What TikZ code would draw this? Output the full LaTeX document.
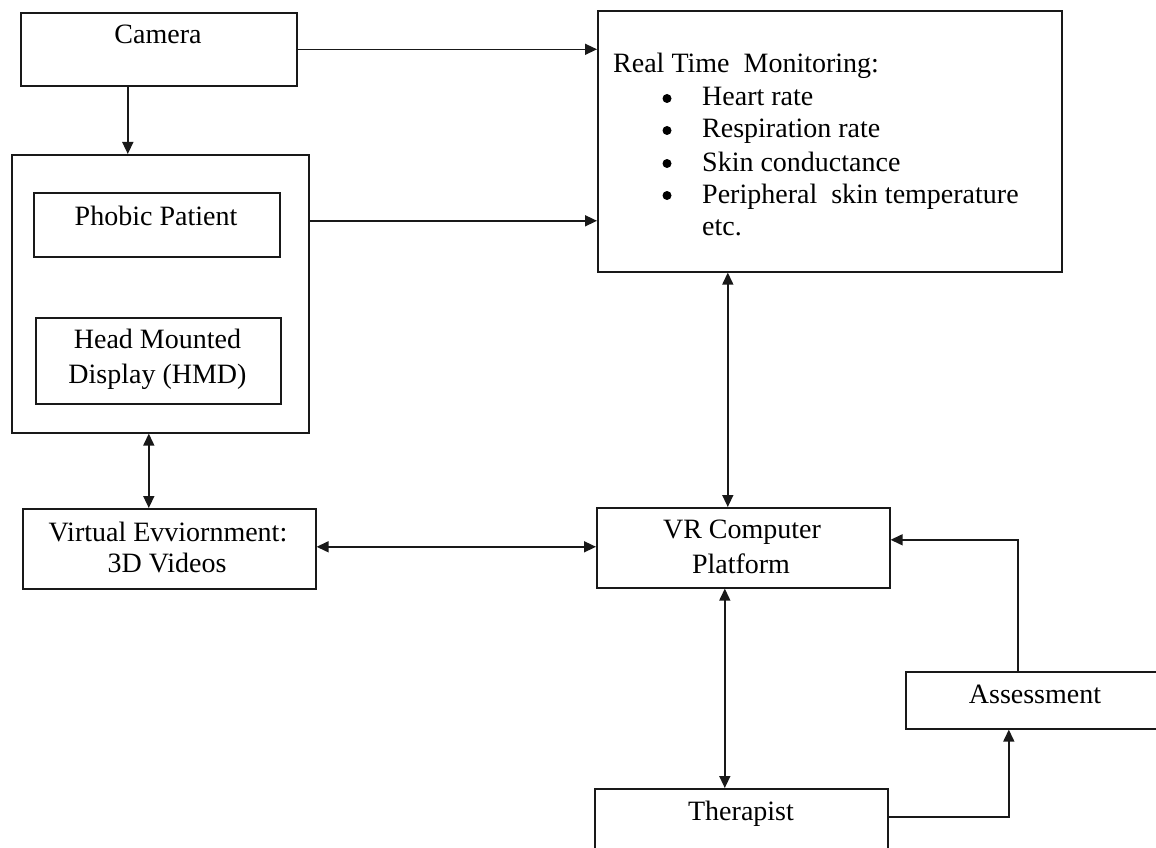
\documentclass[tikz,border=0pt]{standalone}
\usepackage{fontspec}
\setmainfont{Liberation Serif}
\usetikzlibrary{arrows.meta,calc}
\begin{document}
\begin{tikzpicture}[x=1pt,y=-1pt,
  box/.style={draw=black!90,line width=1.6pt,rectangle,inner sep=0pt,anchor=north west},
  lbl/.style={font=\fontsize{28}{32}\selectfont,inner sep=0pt,anchor=base},
  lbll/.style={font=\fontsize{28}{32}\selectfont,inner sep=0pt,anchor=base west},
  bulstyle/.style={circle,fill=black,inner sep=0pt,minimum size=9pt},
  arr/.style={line width=1.5pt,draw=black!90,-{Triangle[length=12pt,width=11pt]}},
  darr/.style={line width=1.5pt,draw=black!90,{Triangle[length=12pt,width=11pt]}-{Triangle[length=12pt,width=11pt]}}]
\useasboundingbox (0,0) rectangle (1156,848);
\clip (0,0) rectangle (1156,848);
\fill[white] (0,0) rectangle (1156,848);
% boxes
\node[box,minimum width=276pt,minimum height=73pt] (cam) at (20,12) {};
\node[box,minimum width=297pt,minimum height=278pt] (pat) at (11,154) {};
\node[box,minimum width=246pt,minimum height=64pt] (phob) at (33,192) {};
\node[box,minimum width=245pt,minimum height=86pt] (hmd) at (35,317) {};
\node[box,minimum width=464pt,minimum height=261pt] (rtm) at (597,10) {};
\node[box,minimum width=293pt,minimum height=80pt] (ve) at (22,508) {};
\node[box,minimum width=293pt,minimum height=80pt] (vr) at (596,507) {};
\node[box,minimum width=293pt,minimum height=100pt] (ther) at (594,788) {};
\node[box,minimum width=260pt,minimum height=57pt] (ass) at (905,671) {};
% texts
\node[lbl] (camt) at (158,44) {Camera};
\node[lbl] (phobt) at (156,225) {Phobic Patient};
\node[lbl] (hmdt1) at (157.5,348) {Head Mounted};
\node[lbl] (hmdt2) at (157.5,383) {Display (HMD)};
\node[lbl] (vet1) at (168,541) {Virtual Evviornment:};
\node[lbl] (vet2) at (167,572) {3D Videos};
\node[lbl] (vrt1) at (742,538) {VR Computer};
\node[lbl] (vrt2) at (741,573) {Platform};
\node[lbl] (asst) at (1035,703) {Assessment};
\node[lbl] (thert) at (741,820) {Therapist};
\node[lbll] (rtmt) at (613,73) {Real Time\ \ Monitoring:};
\foreach \t/\yy [count=\i] in {Heart rate/106,Respiration rate/138,Skin conductance/171,Peripheral\ \ skin temperature/203}{
  \node[bulstyle] (bul\i) at (667,\yy-7.5) {};
  \node[lbll] (item\i) at (702,\yy) {\t};
}
\node[lbll] (etc) at (702,235) {etc.};
% connectors
\draw[arr] (cam.east) -- (cam.east -| rtm.west);
\coordinate (a1) at ([xshift=-31pt]cam.south);
\draw[arr] (a1) -- (a1 |- pat.north);
\coordinate (a2) at ([yshift=4pt]phob.east);
\draw[arr] (a2 -| pat.east) -- (a2 -| rtm.west);
\coordinate (a3) at ([xshift=-11.5pt]pat.south);
\draw[darr] (a3) -- (a3 |- ve.north);
\coordinate (a4) at ([yshift=2pt]ve.east);
\draw[darr] (a4) -- (a4 -| vr.west);
\coordinate (a5) at ([xshift=-15.5pt]vr.north);
\draw[darr] (a5 |- rtm.south) -- (a5);
\coordinate (a6) at ([xshift=-18.5pt]vr.south);
\draw[darr] (a6) -- (a6 |- ther.north);
\coordinate (a7) at ([xshift=-18pt]ass.north);
\coordinate (a8) at ([yshift=8pt]vr.east);
\draw[arr] (a7) |- (a8);
\coordinate (a9) at ([yshift=22pt]ther.east);
\coordinate (a10) at ([xshift=-27pt]ass.south);
\draw[arr] (a9) -| (a10);
\end{tikzpicture}
\end{document}
